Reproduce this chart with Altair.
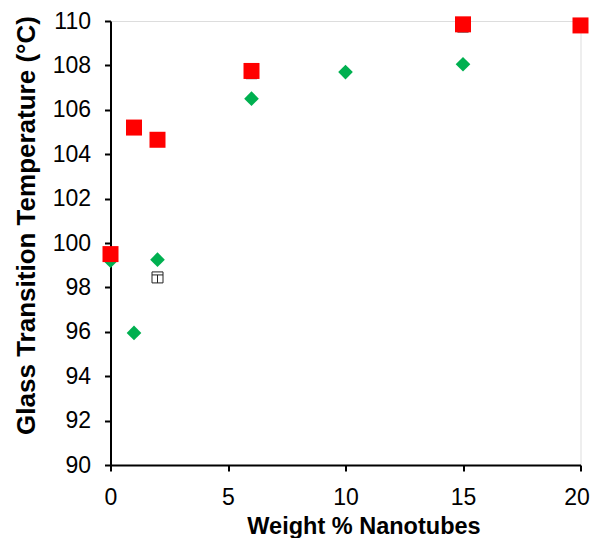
import altair as alt
import pandas as pd

# Data
red_x = [0, 1, 2, 6, 15, 20]
red_y = [99.5, 105.2, 104.65, 107.75, 109.85, 109.8]
green_x = [0, 1, 2, 6, 10, 15]
green_y = [99.2, 95.95, 99.25, 106.5, 107.7, 108.05]
open_x = [2, 6, 15]
open_y = [98.45, 107.65, 109.75]
x_ticks = [0, 5, 10, 15, 20]
y_ticks = [90, 92, 94, 96, 98, 100, 102, 104, 106, 108, 110]

df_red = pd.DataFrame({"x": red_x, "y": red_y})
df_green = pd.DataFrame({"x": green_x, "y": green_y})
df_open = pd.DataFrame({"x": open_x, "y": open_y})

FONT = "Liberation Sans"

x_enc = alt.X(
    "x:Q",
    scale=alt.Scale(domain=[0, 20], nice=False, zero=False),
    axis=alt.Axis(
        values=x_ticks,
        grid=False,
        title="Weight % Nanotubes",
        titleFont=FONT,
        titleFontSize=23.5,
        titleFontWeight="bold",
        titleColor="black",
        titleX=253,
        titleY=68,
        titleBaseline="alphabetic",
        labelFont=FONT,
        labelFontSize=23,
        labelColor="black",
        labelPadding=15,
        labelFlush=False,
        labelOverlap=False,
        labelOffset={"expr": "datum.value == 20 ? -4 : 0"},
        tickSize=6,
        tickWidth=2,
        tickColor="black",
        domainColor="black",
        domainWidth=2,
    ),
)
y_enc = alt.Y(
    "y:Q",
    scale=alt.Scale(domain=[90, 110], nice=False, zero=False),
    axis=alt.Axis(
        values=y_ticks,
        grid=False,
        title="Glass Transition Temperature (°C)",
        titleFont=FONT,
        titleFontSize=26,
        titleFontWeight="bold",
        titleColor="black",
        titleAngle=-90,
        titleX=-76,
        titleY=204,
        titleBaseline="alphabetic",
        labelFont=FONT,
        labelFontSize=23,
        labelColor="black",
        labelPadding=14,
        labelFlush=False,
        labelOverlap=False,
        tickSize=6,
        tickWidth=2,
        tickColor="black",
        domainColor="black",
        domainWidth=2,
    ),
)

open_layer = alt.Chart(df_open).mark_point(
    shape="M-1,-1H1V1H-1Z M-1,-0.45H1 M0,-0.45V1",
    size=121,
    filled=False,
    fill="white",
    fillOpacity=1,
    stroke="#222222",
    strokeWidth=1,
    opacity=1,
).encode(x=x_enc, y=y_enc)

green_layer = alt.Chart(df_green).mark_point(
    shape="diamond", size=215, filled=True, color="#00B050", opacity=1
).encode(x=x_enc, y=y_enc)

red_layer = alt.Chart(df_red).mark_point(
    shape="square", size=256, filled=True, color="#FF0000", opacity=1
).encode(x=x_enc, y=y_enc)

chart = alt.layer(open_layer, green_layer, red_layer).properties(
    width=470,
    height=444,
    autosize=alt.AutoSizeParams(type="none"),
    padding={"left": 102.5, "top": 13, "right": 9.5, "bottom": 73},
).configure_view(stroke=None).configure(background="white")

chart.save("out.html", embed_options={"renderer": "svg", "actions": False})
